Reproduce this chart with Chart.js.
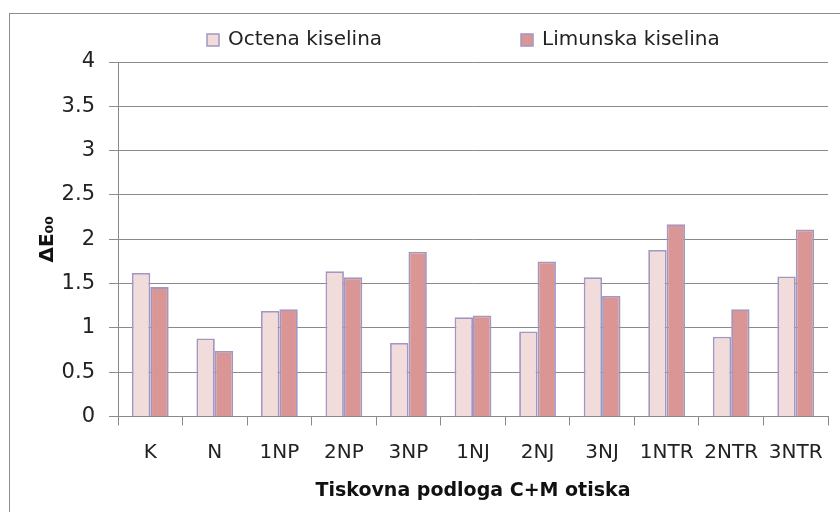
<!DOCTYPE html>
<html>
<head>
<meta charset="utf-8">
<script src="https://cdn.jsdelivr.net/npm/chart.js@4.4.0/dist/chart.umd.min.js"></script>
<style>
  html, body { margin: 0; padding: 0; background: #fff; overflow: hidden; }
  #frame {
    position: absolute; left: 9px; top: 13px;
    width: 900px; height: 600px;
    border: 1px solid #8c8c8c;
  }
  canvas { display: block; position: absolute; left: 0; top: 0; }
</style>
</head>
<body>
<canvas id="barChart" width="840" height="512"></canvas>
<div id="frame"></div>
<script>
const categories = ["K", "N", "1NP", "2NP", "3NP", "1NJ", "2NJ", "3NJ", "1NTR", "2NTR", "3NTR"]
const octena = [1.62, 0.88, 1.19, 1.64, 0.83, 1.12, 0.96, 1.57, 1.88, 0.90, 1.58]
const limunska = [1.46, 0.74, 1.21, 1.57, 1.86, 1.14, 1.75, 1.36, 2.17, 1.21, 2.11]
const yTicks = [0, 0.5, 1, 1.5, 2, 2.5, 3, 3.5, 4]

const fontName = "'DejaVu Sans', sans-serif"
const gridColor = '#8a8a8a'

// excel-like legend, items sit at fixed spots above the plot
const topLegend = {
  id: 'topLegend',
  afterDraw(chart) {
    const ctx = chart.ctx
    const spots = [207, 521]
    ctx.save()
    ctx.font = "20px " + fontName
    ctx.textBaseline = 'middle'
    chart.data.datasets.forEach((ds, i) => {
      const x = spots[i]
      ctx.fillStyle = ds.backgroundColor
      ctx.fillRect(x, 34, 12, 12)
      ctx.strokeStyle = ds.borderColor
      ctx.lineWidth = 1.5
      ctx.strokeRect(x, 34, 12, 12)
      ctx.fillStyle = '#222'
      ctx.fillText(ds.label, x + 21, 40)
    })
    ctx.restore()
  }
}

new Chart(document.getElementById("barChart"), {
  type: 'bar',
  data: {
    labels: categories,
    datasets: [{
      label: 'Octena kiselina',
      data: octena,
      backgroundColor: '#f2dcdb',
      borderColor: '#a397c0',
      borderWidth: 1.8
    }, {
      label: 'Limunska kiselina',
      data: limunska,
      backgroundColor: '#d99694',
      borderColor: '#a397c0',
      borderWidth: 1.8
    }]
  },
  options: {
    responsive: false,
    animation: false,
    categoryPercentage: 0.57,
    barPercentage: 1,
    layout: { padding: { left: 30, right: 12, top: 62, bottom: 10 } },
    plugins: {
      tooltip: { enabled: false },
      legend: { display: false }
    },
    scales: {
      x: {
        offset: true,
        afterFit: (axis) => { axis.height = 85.5 },
        grid: {
          offset: true,
          drawOnChartArea: false,
          color: gridColor,
          tickLength: 9
        },
        border: { color: gridColor },
        ticks: { color: '#222', font: { family: fontName, size: 20 }, padding: 15, maxRotation: 0, autoSkip: false },
        title: {
          display: true,
          text: 'Tiskovna podloga C+M otiska',
          color: '#111',
          font: { family: fontName, size: 19, weight: 'bold' },
          padding: { top: 0, bottom: 0 }
        }
      },
      y: {
        min: 0,
        max: 4,
        afterFit: (axis) => { axis.width = 88 },
        afterBuildTicks: (axis) => { axis.ticks = yTicks.map(v => ({ value: v })) },
        grid: { color: gridColor, tickLength: 9 },
        border: { color: gridColor },
        ticks: {
          color: '#222',
          font: { family: fontName, size: 21 },
          padding: 14,
          callback: (v) => String(v)
        },
        title: {
          display: true,
          text: 'ΔE₀₀',
          color: '#111',
          font: { family: fontName, size: 20, weight: 'bold' },
          padding: { top: 6, bottom: 0 }
        }
      }
    }
  },
  plugins: [topLegend]
})
</script>
</body>
</html>
